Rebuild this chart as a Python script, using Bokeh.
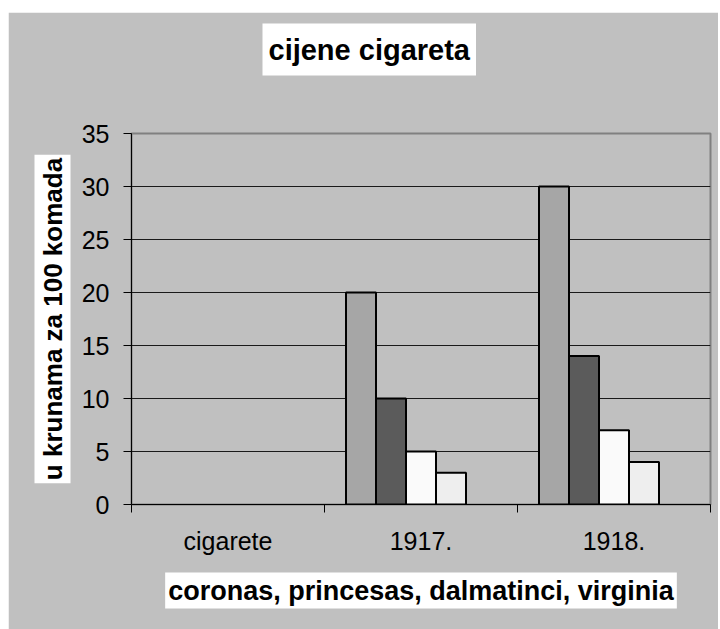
from bokeh.plotting import figure
from bokeh.models import FixedTicker, Range1d, ColumnDataSource, Spacer, LinearAxis, Title
from bokeh.layouts import column, row
from bokeh.embed import file_html
from bokeh.resources import INLINE

# ---- data ----
categories = ["cigarete", "1917.", "1918."]
series_names = ["coronas", "princesas", "dalmatinci", "virginia"]
coronas = [None, 20, 30]
princesas = [None, 10, 14]
dalmatinci = [None, 5, 7]
virginia = [None, 3, 4]
y_ticks = [0, 5, 10, 15, 20, 25, 30, 35]
title_text = "cijene cigareta"
x_title = "coronas, princesas, dalmatinci, virginia"
y_title = "u krunama za 100 komada"

# ---- styles ----
BG = "#c0c0c0"
colors = ["#a6a6a6", "#5b5b5b", "#fafafa", "#eeeeee"]
FONT = "Liberation Sans"
W, H = 710, 617
ML, MR, MT, MB = 123, 8, 121, 125
slots = 5                 # Excel group with 5 slots (5th empty)
bar_w = 30 / 193          # bar width as fraction of a category

p = figure(width=W, height=H, output_backend="svg", toolbar_location=None,
           x_range=Range1d(0, len(categories)), y_range=Range1d(0, 35),
           min_border_left=ML, min_border_right=MR, min_border_top=MT,
           min_border_bottom=MB, title=None)
p.background_fill_color = BG
p.border_fill_color = BG
p.outline_line_color = "#808080"
p.outline_line_width = 2


def set_pad(obj, *pads):
    for pad in pads:
        try:
            obj.padding = pad
            return
        except Exception:
            pass


def boxed_ticklabels(ax):
    props = ax.properties()
    if "major_label_background_fill_color" in props:
        ax.major_label_background_fill_color = "white"


series = [coronas, princesas, dalmatinci, virginia]
for j, vals in enumerate(series):
    xs = [i + 0.5 + (j - (slots - 1) / 2) * bar_w for i in range(len(categories))]
    tops = [float("nan") if v is None else v for v in vals]
    src = ColumnDataSource(dict(x=xs, top=tops))
    p.vbar(x="x", top="top", bottom=0, width=bar_w, source=src,
           fill_color=colors[j], line_color="black", line_width=2)

# grid
p.xgrid.visible = False
p.ygrid.ticker = FixedTicker(ticks=[t for t in y_ticks if 0 < t < 35])
p.ygrid.grid_line_color = "#1a1a1a"
p.ygrid.grid_line_width = 1

# y axis
ya = p.yaxis[0]
ya.ticker = FixedTicker(ticks=y_ticks)
ya.major_label_text_font = FONT
ya.major_label_text_font_size = "25px"
ya.major_label_text_color = "black"
ya.major_label_standoff = 14
ya.axis_line_color = "black"
ya.major_tick_line_color = "black"
ya.major_tick_out = 8
ya.major_tick_in = 0
ya.minor_tick_line_color = None
boxed_ticklabels(ya)

# x axis (ticks at category boundaries)
xa = p.xaxis[0]
xa.ticker = FixedTicker(ticks=list(range(len(categories) + 1)))
xa.major_label_overrides = {k: "" for k in range(len(categories) + 1)}
xa.axis_line_color = "black"
xa.major_tick_line_color = "black"
xa.major_tick_out = 8
xa.major_tick_in = 0
xa.minor_tick_line_color = None

# category labels axis
xc = LinearAxis(ticker=FixedTicker(ticks=[i + 0.5 for i in range(len(categories))]),
                major_label_overrides={i + 0.5: c for i, c in enumerate(categories)})
xc.axis_line_color = None
xc.major_tick_line_color = None
xc.minor_tick_line_color = None
xc.major_label_text_font = FONT
xc.major_label_text_font_size = "25px"
xc.major_label_text_color = "black"
xc.major_label_standoff = 8
boxed_ticklabels(xc)
p.add_layout(xc, "below")

# x axis title (boxed)
xt = Title(text=x_title, align="center", vertical_align="top", standoff=30,
           text_font=FONT, text_font_size="27px", text_font_style="bold",
           text_color="black", background_fill_color="white")
set_pad(xt, 3)
p.add_layout(xt, "below")

# y axis title (boxed)
yt = Title(text=y_title, align="center", standoff=16,
           text_font=FONT, text_font_size="26px", text_font_style="bold",
           text_color="black", background_fill_color="white")
set_pad(yt, 3)
p.add_layout(yt, "left")

# empty space between frame and chart title
mid = (len(categories)) / 2
gap = LinearAxis(ticker=FixedTicker(ticks=[mid]), major_label_overrides={mid: ""},
                 major_tick_out=58, major_tick_in=0, major_label_standoff=0,
                 axis_line_color=None, major_tick_line_color=None,
                 minor_tick_line_color=None)
p.add_layout(gap, "above")

# chart title (boxed)
tt = Title(text=title_text, align="left", offset=131, standoff=0,
           text_font=FONT, text_font_size="29px", text_font_style="bold",
           text_color="black", background_fill_color="white")
set_pad(tt, dict(left=6, right=6, top=10, bottom=10), dict(x=6, y=10), 8)
p.add_layout(tt, "above")

layout = row(Spacer(width=8, height=H), column(Spacer(width=W, height=12), p))
open("out.html", "w").write(file_html(layout, INLINE))
